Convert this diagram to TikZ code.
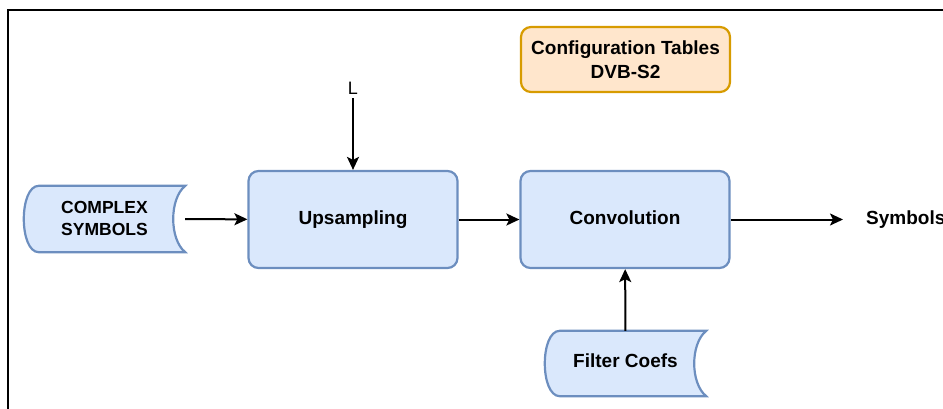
\documentclass[tikz,border=0pt]{standalone}
\usepackage{fontspec}
\setmainfont{Liberation Sans}
\usetikzlibrary{arrows.meta}
\definecolor{blueFill}{HTML}{DAE8FC}
\definecolor{blueLine}{HTML}{6C8EBF}
\definecolor{orangeFill}{HTML}{FFE6CC}
\definecolor{orangeLine}{HTML}{D79B00}
\tikzset{
    block/.style={draw=blueLine,fill=blueFill,line width=2.2pt,rounded corners=10pt,
        minimum width=209pt,minimum height=97pt,inner sep=0pt,font=\fontsize{19}{24}\selectfont\bfseries},
    config/.style={block,draw=orangeLine,fill=orangeFill,minimum height=65pt,align=center},
    store/.style={draw=blueLine,fill=blueFill,line width=2.2pt},
    storetext/.style={minimum width=161pt,minimum height=66pt,inner sep=0pt,align=center},
    flow/.style={line width=2pt,-{Stealth[length=13pt,width=12pt,inset=3pt]}}
}
% stored data outline round a named node
\newcommand\storeshape[1]{%
    \path[store] ([xshift=15pt]#1.north west) -- (#1.north east)
        .. controls ([xshift=-16pt,yshift=-13pt]#1.north east) and ([xshift=-16pt,yshift=13pt]#1.south east) .. (#1.south east)
        -- ([xshift=15pt]#1.south west)
        .. controls ([xshift=-5pt]#1.south west) and ([xshift=-5pt]#1.north west) .. cycle;
}
\begin{document}
\begin{tikzpicture}[x=1pt,y=-1pt]
\useasboundingbox (0,0) rectangle (943,408);
\path[draw,line width=2pt] (8,420) -- (8,10) -- (960,10);

\node[block] at (353,219.5)(up){\raisebox{3pt}{Upsampling}};
\node[block] at (625,219.5)(conv){\raisebox{3pt}{Convolution}};
\node[config] at (625.5,59.5)(cfg){Configuration Tables\\DVB-S2};

\node[storetext] at (104.5,219)(cplx){};
\storeshape{cplx}
\node[storetext,font=\fontsize{17.5}{22}\selectfont\bfseries] at (104.5,218){COMPLEX\\SYMBOLS};
\node[storetext,minimum height=65pt] at (625.5,363.5)(filt){};
\storeshape{filt}
\node[font=\fontsize{19}{24}\selectfont\bfseries] at (625.5,361){Filter Coefs};

\node[font=\fontsize{18}{22}\selectfont,inner sep=4pt] at (353,88)(len){L};
\node[font=\fontsize{19}{24}\selectfont\bfseries,anchor=west,inner sep=4pt] at (862,219.5)(sym){Symbols};

\foreach \a/\b in {cplx/up, up/conv}{
    \draw[flow] (\a) -- (\b);
}
\draw[flow] (len) -- (up);
\draw[flow] (filt) -- (conv);
\draw[flow,shorten >=19pt] (conv) -- (sym);
\end{tikzpicture}
\end{document}
